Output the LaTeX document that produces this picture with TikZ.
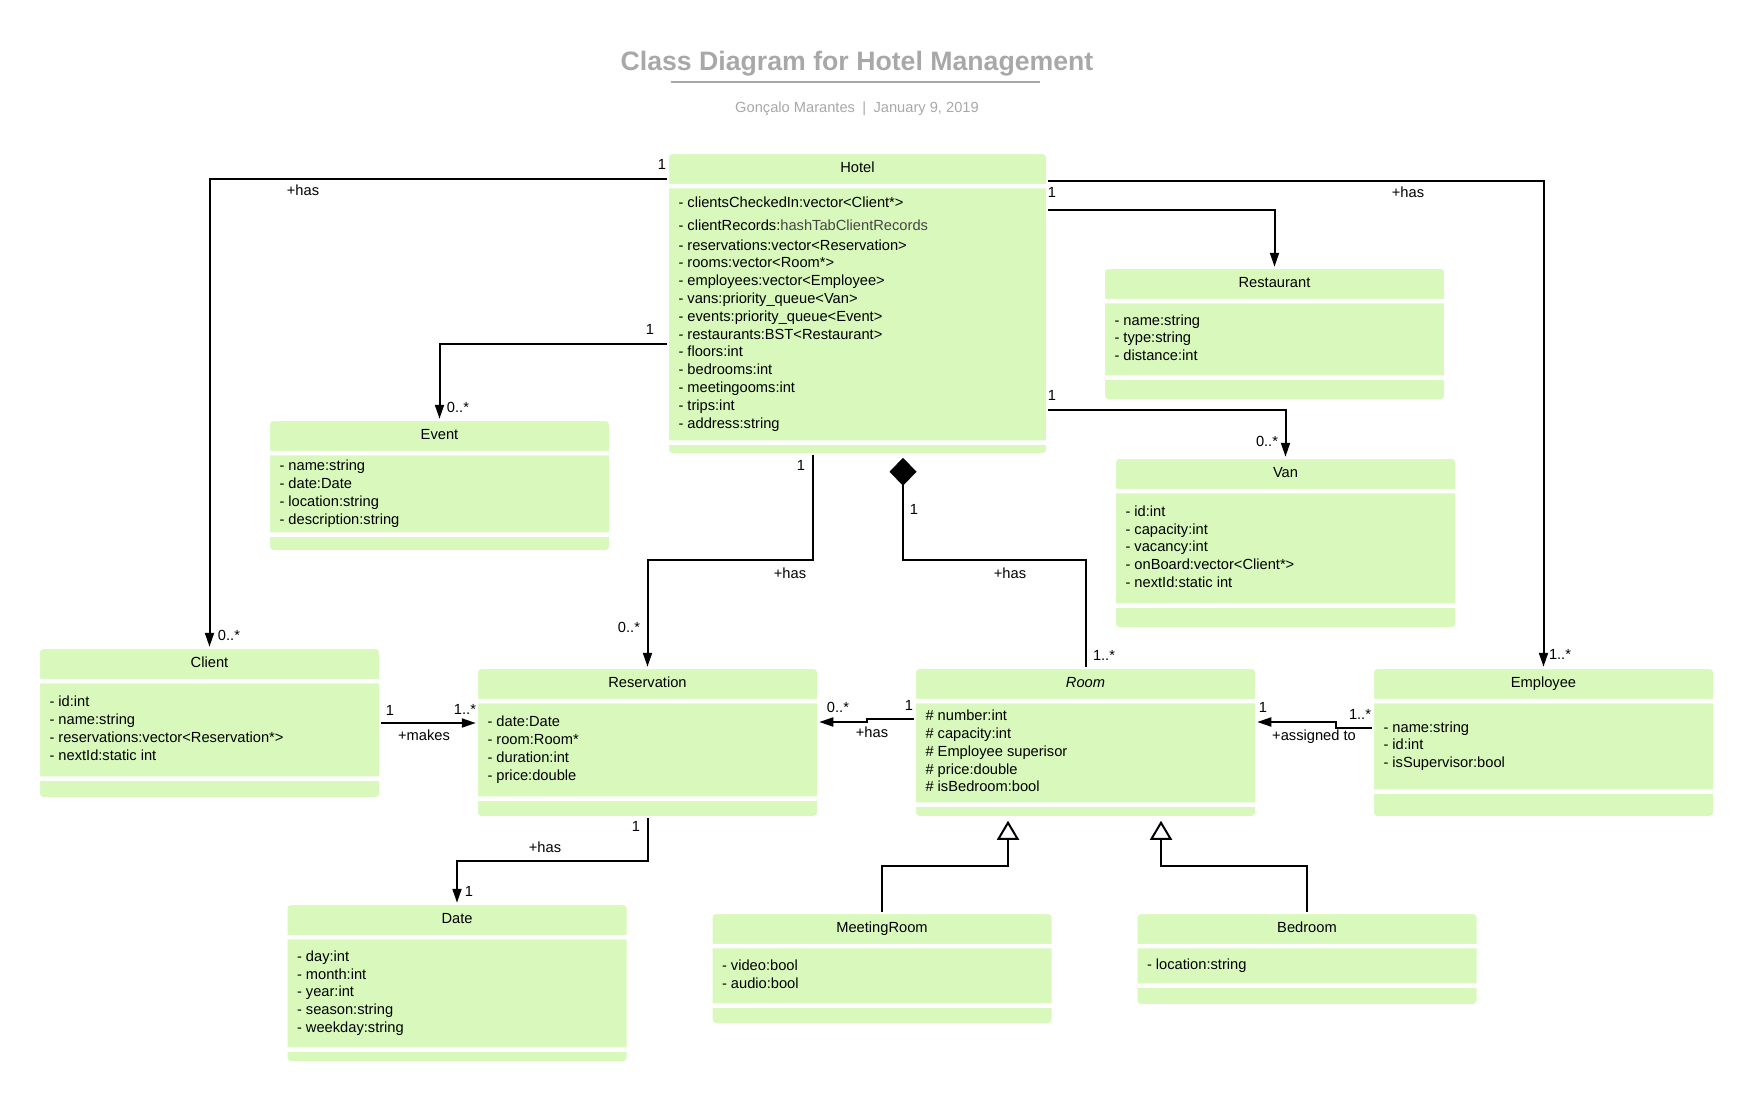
\documentclass[tikz,border=0pt]{standalone}
\usepackage{fontspec}
\setmainfont{Liberation Sans}
\usepackage{xcolor}
\usepackage{tikz}
\usetikzlibrary{positioning,arrows.meta,shapes.multipart}

\definecolor{classgreen}{RGB}{216,249,187}
\definecolor{titlegray}{RGB}{168,168,168}
\definecolor{typegray}{RGB}{70,70,70}
\newcommand{\umlfont}{\fontsize{14.67pt}{17.8pt}\selectfont}
\newcommand{\umlpart}[3][320]{\parbox[c][#2pt][c]{#1pt}{\umlfont\raggedright\strut#3\strut}}

\begin{document}
\begin{tikzpicture}[
  x=1pt, y=-1pt,
  umlclass/.style={rectangle split, rectangle split parts=3, anchor=north,
                   fill=classgreen, draw=white, line width=4.5pt, rounded corners=5pt,
                   inner xsep=11.75pt, inner ysep=0pt, outer sep=0pt, font=\umlfont},
  lbl/.style={font=\umlfont, inner sep=0pt},
  title/.style={font=\fontsize{26.67pt}{32pt}\selectfont\bfseries, text=titlegray, inner sep=0pt},
  subtitle/.style={font=\umlfont, text=titlegray, inner sep=0pt},
  assoc/.style={draw, line width=2pt, -{Triangle[length=14pt, width=9pt]}},
  comp/.style={draw, line width=2pt, {Diamond[length=28pt, width=27pt]}-, shorten <=2.5pt},
  gen/.style={draw, line width=2pt, -{Triangle[open, length=19pt, width=22pt]}, shorten >=2.5pt}
]
  \useasboundingbox (0,0) rectangle (1741,1103);

  \node[title] (title) at (857,64) {Class Diagram for Hotel Management};
  \draw[titlegray, line width=2.5pt] (671,82) -- (1040,82);
  \node[subtitle] (author) at (857,109) {Gonçalo Marantes\enspace|\enspace January 9, 2019};

  \node[umlclass] (hotel) at (857.5,151.75)
    {\umlpart[358]{29.75}{\centering Hotel}%
     \nodepart{two}\umlpart[358]{252}{- clientsCheckedIn:vector<Client*>\\[5pt]
       - clientRecords:\textcolor{typegray}{hashTabClientRecords}\\[2pt]
       - reservations:vector<Reservation>\\
       - rooms:vector<Room*>\\
       - employees:vector<Employee>\\
       - vans:priority\_queue<Van>\\
       - events:priority\_queue<Event>\\
       - restaurants:BST<Restaurant>\\
       - floors:int\\
       - bedrooms:int\\
       - meetingooms:int\\
       - trips:int\\
       - address:string}%
     \nodepart{three}\rule{0pt}{8.25pt}};
  \node[umlclass] (event) at (439.5,418.75)
    {\umlpart{29.75}{\centering Event}%
     \nodepart{two}\umlpart{77}{- name:string\\ - date:Date\\ - location:string\\ - description:string}%
     \nodepart{three}\rule{0pt}{13.25pt}};
  \node[umlclass] (restaurant) at (1274.5,266.75)
    {\umlpart{29.75}{\centering Restaurant}%
     \nodepart{two}\umlpart{72}{- name:string\\ - type:string\\ - distance:int}%
     \nodepart{three}\rule{0pt}{19.25pt}};
  \node[umlclass] (van) at (1285.5,456.75)
    {\umlpart{29.75}{\centering Van}%
     \nodepart{two}\umlpart{110}{- id:int\\ - capacity:int\\ - vacancy:int\\ - onBoard:vector<Client*>\\ - nextId:static int}%
     \nodepart{three}\rule{0pt}{19.25pt}};
  \node[umlclass] (client) at (209.5,646.75)
    {\umlpart{29.75}{\centering Client}%
     \nodepart{two}\umlpart{93}{- id:int\\ - name:string\\ - reservations:vector<Reservation*>\\ - nextId:static int}%
     \nodepart{three}\rule{0pt}{16.25pt}};
  \node[umlclass] (reservation) at (647.5,666.75)
    {\umlpart{29.75}{\centering Reservation}%
     \nodepart{two}\umlpart{93}{- date:Date\\ - room:Room*\\ - duration:int\\ - price:double}%
     \nodepart{three}\rule{0pt}{15.25pt}};
  \node[umlclass, right=94.5pt of reservation] (room)
    {\umlpart{29.75}{\centering\itshape Room}%
     \nodepart{two}\umlpart{99}{\# number:int\\ \# capacity:int\\ \# Employee superisor\\ \# price:double\\ \# isBedroom:bool}%
     \nodepart{three}\rule{0pt}{9.25pt}};
  \node[umlclass, right=114.5pt of room] (employee)
    {\umlpart{29.75}{\centering Employee}%
     \nodepart{two}\umlpart{86}{- name:string\\ - id:int\\ - isSupervisor:bool}%
     \nodepart{three}\rule{0pt}{22.25pt}};
  \node[umlclass] (date) at (457,902.75)
    {\umlpart{29.75}{\centering Date}%
     \nodepart{two}\umlpart{108}{- day:int\\ - month:int\\ - year:int\\ - season:string\\ - weekday:string}%
     \nodepart{three}\rule{0pt}{9.25pt}};
  \node[umlclass] (meeting) at (882,911.75)
    {\umlpart{29.75}{\centering MeetingRoom}%
     \nodepart{two}\umlpart{55}{- video:bool\\ - audio:bool}%
     \nodepart{three}\rule{0pt}{15.25pt}};
  \node[umlclass] (bedroom) at (1307,911.75)
    {\umlpart{29.75}{\centering Bedroom}%
     \nodepart{two}\umlpart{35}{- location:string}%
     \nodepart{three}\rule{0pt}{16.25pt}};

  \draw[assoc] (hotel.west |- 0,179) -| (client.north);
  \draw[assoc] (hotel.west |- 0,344) -| (event.north);
  \draw[assoc] ([xshift=-44.5pt]hotel.south) -- ++(0,105) -| (reservation.north);
  \draw[comp] ([xshift=45.5pt]hotel.south) -- ++(0,105) -| (room.north);
  \draw[assoc] (hotel.east |- 0,181) -| (employee.north);
  \draw[assoc] (hotel.east |- 0,210) -| (restaurant.north);
  \draw[assoc] (hotel.east |- 0,410) -| (van.north);
  \draw[assoc] (client.east) -- (client.east -| reservation.west);
  \draw[assoc] (room.west |- 0,719) -| (867,722) -- (reservation.east |- 0,722);
  \draw[assoc] (employee.west |- 0,728) -| (1336,722) -- (room.east |- 0,722);
  \draw[assoc] (reservation.south) -- ++(0,43) -| (date.north);
  \draw[gen] (meeting.north) -- ++(0,-45.75) -| ([xshift=-77.5pt]room.south);
  \draw[gen] (bedroom.north) -- ++(0,-45.75) -| ([xshift=75.5pt]room.south);

  \node[lbl] (hcOne) at (662,164) {1};
  \node[lbl] (hcHas) at (303,190) {+has};
  \node[lbl] (hcMany) at (229,635) {0..*};
  \node[lbl] (heOne) at (650,329) {1};
  \node[lbl] (heMany) at (458,407) {0..*};
  \node[lbl] (hrOne) at (801,465) {1};
  \node[lbl] (hrHas) at (790,573) {+has};
  \node[lbl] (hrMany) at (629,627) {0..*};
  \node[lbl] (hmOne) at (914,509) {1};
  \node[lbl] (hmHas) at (1010,573) {+has};
  \node[lbl] (hmMany) at (1104,655) {1..*};
  \node[lbl] (hpOne) at (1052,192) {1};
  \node[lbl] (hpHas) at (1408,192) {+has};
  \node[lbl] (hpMany) at (1560,654) {1..*};
  \node[lbl] (hvOne) at (1052,395) {1};
  \node[lbl] (hvMany) at (1267,441) {0..*};
  \node[lbl] (crOne) at (390,710) {1};
  \node[lbl] (crMany) at (465,709) {1..*};
  \node[lbl] (crMakes) at (424,735) {+makes};
  \node[lbl] (rrOne) at (909,705) {1};
  \node[lbl] (rrMany) at (838,707) {0..*};
  \node[lbl] (rrHas) at (872,732) {+has};
  \node[lbl] (erOne) at (1263,707) {1};
  \node[lbl] (erMany) at (1360,714) {1..*};
  \node[lbl] (erAssigned) at (1314,737) {+assigned to};
  \node[lbl] (rdOne) at (636,826) {1};
  \node[lbl] (rdHas) at (545,847) {+has};
  \node[lbl] (rdDate) at (469,891) {1};
\end{tikzpicture}
\end{document}
